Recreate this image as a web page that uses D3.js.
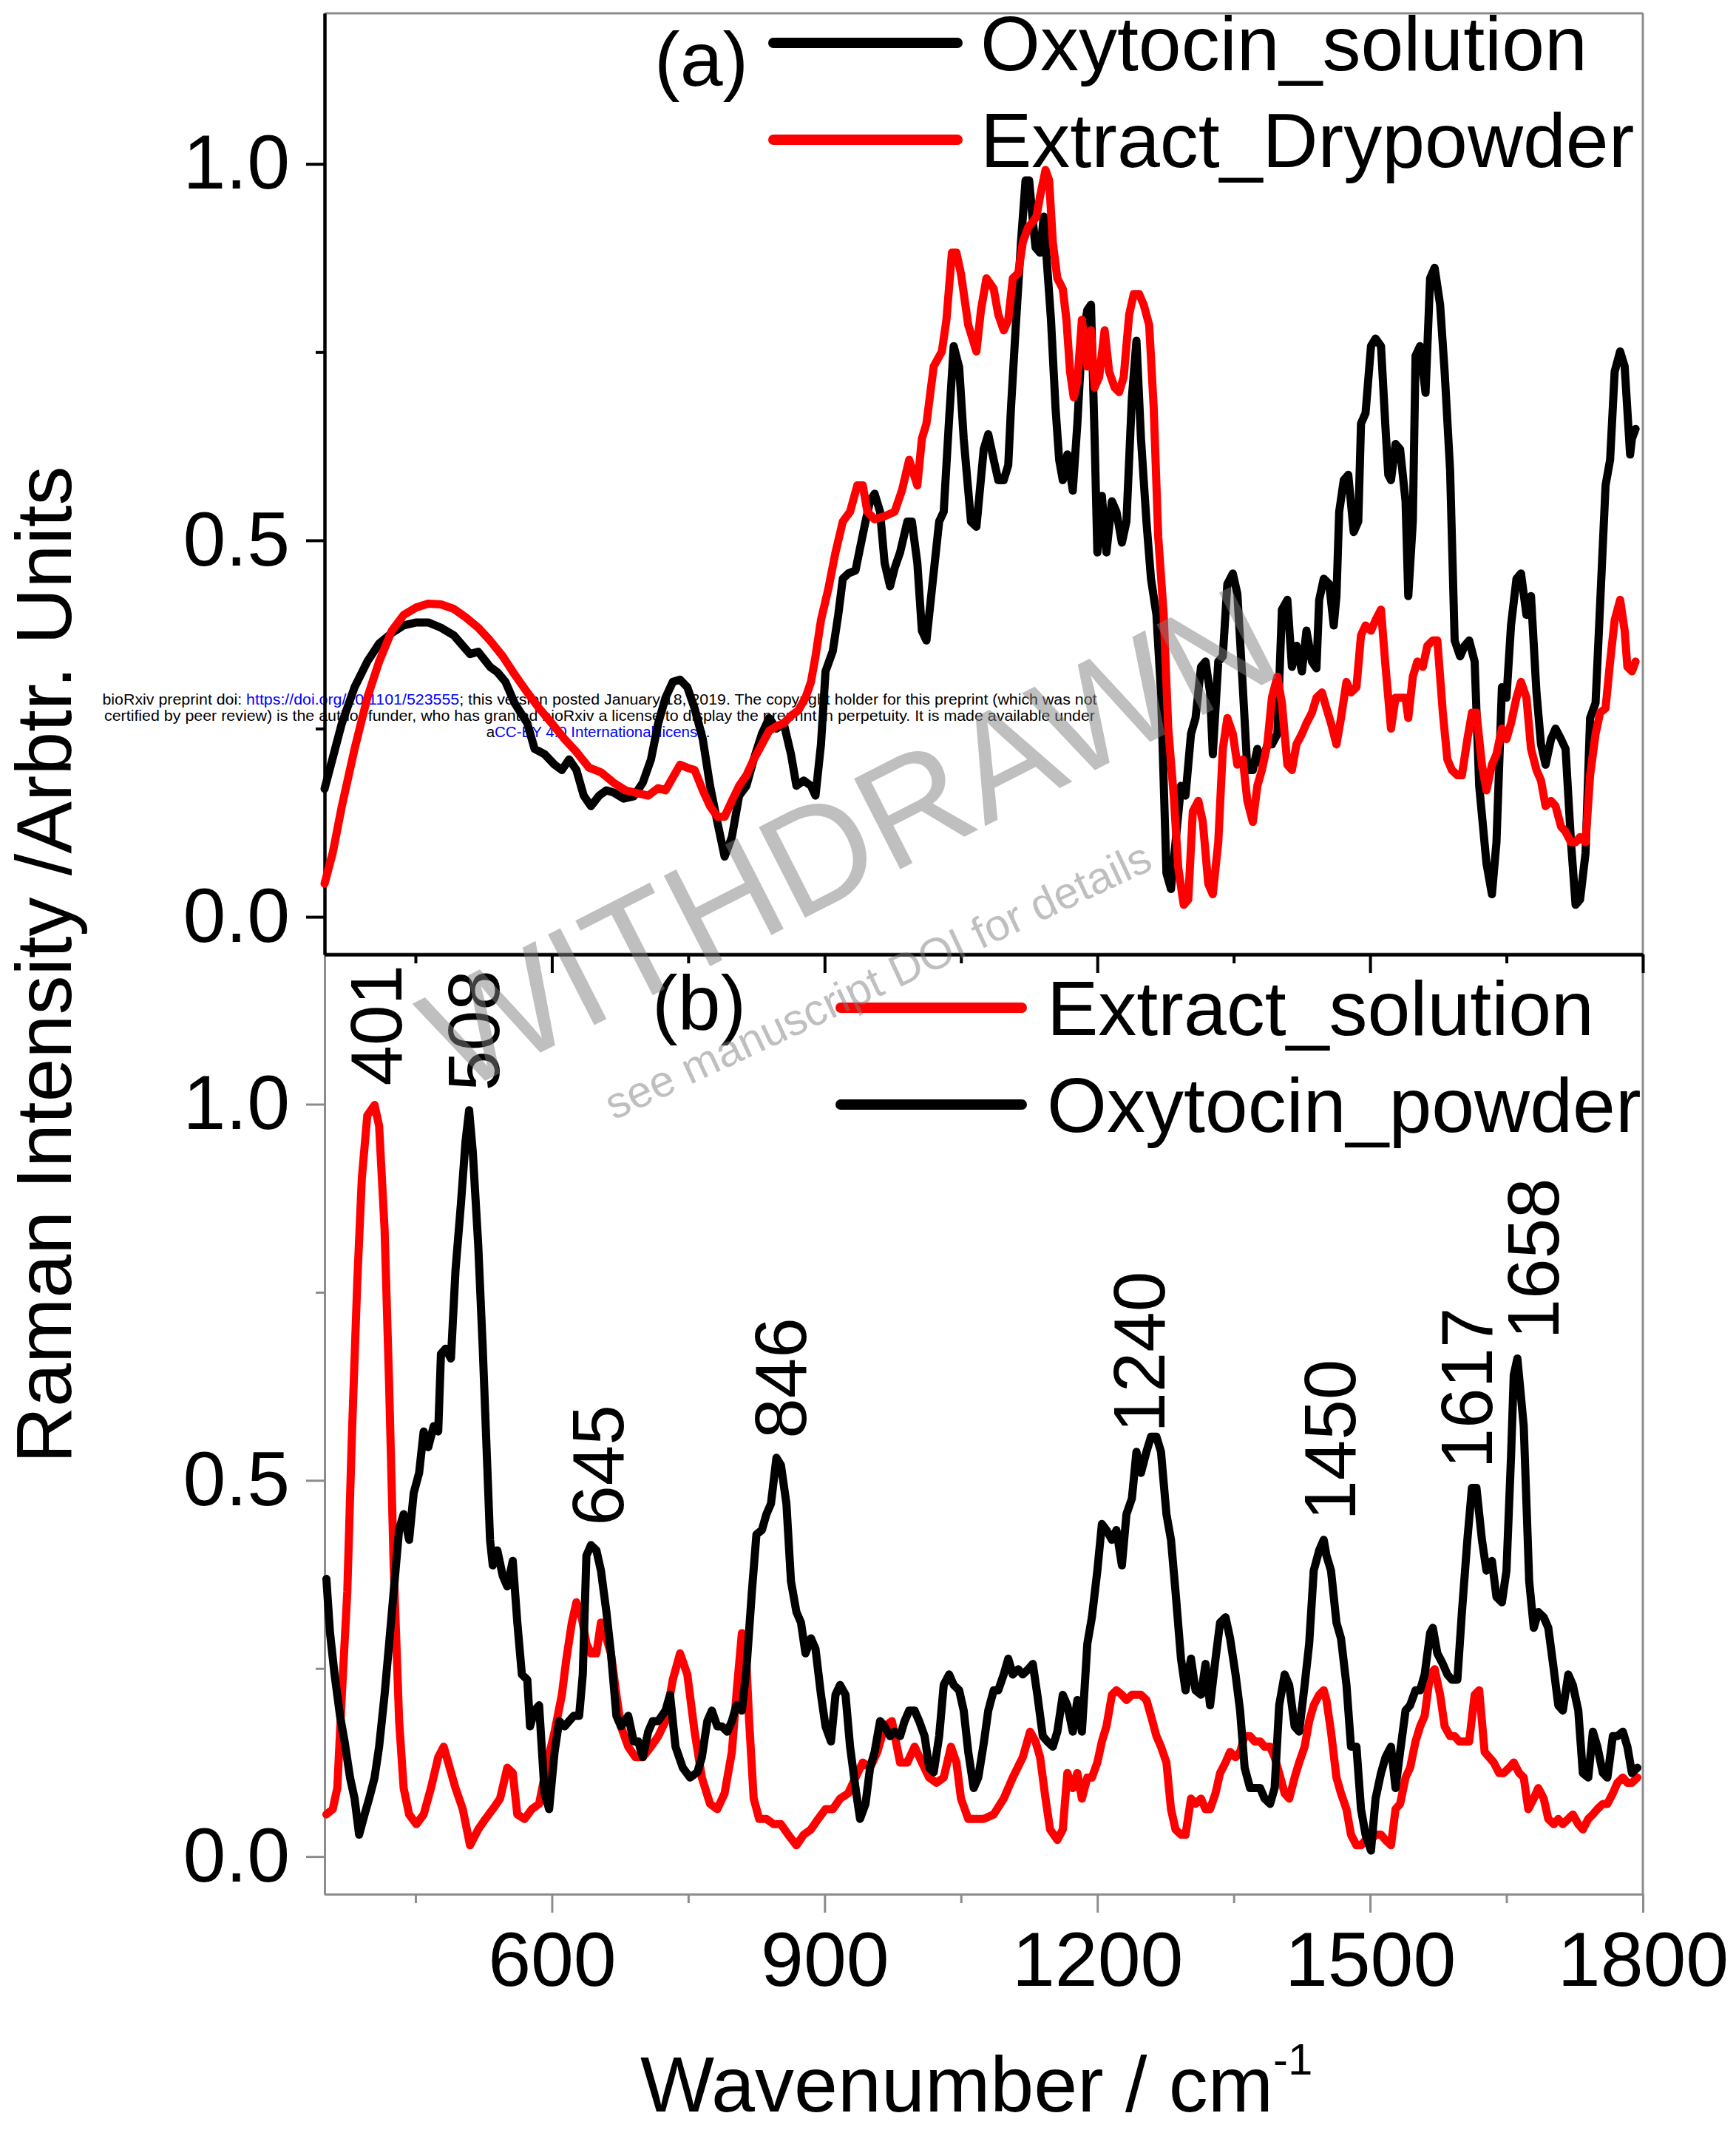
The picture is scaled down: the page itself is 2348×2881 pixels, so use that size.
<!DOCTYPE html>
<html>
<head>
<meta charset="utf-8">
<script src="https://cdn.jsdelivr.net/npm/d3@7"></script>
<style>
  body { margin: 0; background: #fff; }
  text { font-family: "Liberation Sans", Arial, sans-serif; }
</style>
</head>
<body>
<div id="chart"></div>
<script>
// ---- data: [wavenumber, normalised intensity] ----

// panel (a)
const oxytocinSolution = [[350,.17],[369,.257],[383,.305],[397,.339],[410,.363],[424,.377],[437,.387],[451,.391],[464,.391],[478,.384],[492,.374],[505,.356],[510,.349],[519,.352],[532,.332],[540,.325],[549,.312],[559,.284],[573,.257],[581,.223],[592,.216],[603,.202],[611,.195],[619,.209],[627,.195],[635,.161],[643,.147],[652,.161],[660,.168],[668,.165],[679,.157],[690,.16],[700,.178],[709,.209],[717,.257],[725,.291],[733,.312],[741,.315],[749,.305],[757,.277],[766,.236],[774,.174],[782,.126],[790,.08],[798,.106],[806,.161],[814,.174],[822,.209],[831,.243],[839,.264],[847,.25],[855,.257],[863,.216],[869,.174],[877,.181],[885,.174],[890,.161],[896,.229],[901,.326],[909,.353],[915,.401],[920,.449],[926,.456],[934,.46],[939,.49],[945,.525],[950,.552],[955,.562],[961,.538],[966,.47],[972,.439],[977,.463],[983,.484],[991,.525],[996,.525],[1002,.47],[1007,.38],[1012,.367],[1018,.435],[1026,.525],[1031,.538],[1037,.662],[1042,.758],[1048,.73],[1053,.635],[1061,.525],[1067,.518],[1075,.621],[1080,.641],[1086,.607],[1091,.58],[1097,.58],[1102,.6],[1105,.676],[1110,.779],[1116,.896],[1121,.978],[1125,.978],[1128,.937],[1132,.889],[1137,.882],[1141,.93],[1145,.861],[1149,.793],[1154,.676],[1158,.607],[1162,.58],[1167,.614],[1173,.566],[1178,.655],[1183,.765],[1189,.806],[1193,.813],[1197,.635],[1200,.484],[1205,.559],[1210,.484],[1216,.552],[1221,.538],[1227,.497],[1232,.525],[1238,.69],[1243,.765],[1248,.635],[1254,.525],[1259,.449],[1265,.401],[1270,.298],[1276,.058],[1281,.037],[1286,.099],[1292,.174],[1297,.161],[1303,.243],[1308,.264],[1314,.332],[1319,.339],[1324,.298],[1327,.216],[1333,.339],[1338,.346],[1343,.442],[1349,.456],[1354,.429],[1360,.305],[1365,.195],[1371,.195],[1376,.223],[1381,.202],[1387,.229],[1392,.229],[1398,.243],[1403,.408],[1409,.421],[1414,.332],[1419,.36],[1425,.326],[1430,.38],[1436,.339],[1441,.33],[1444,.421],[1449,.449],[1455,.442],[1460,.387],[1463,.426],[1466,.538],[1471,.58],[1476,.587],[1482,.511],[1487,.525],[1490,.655],[1495,.669],[1501,.758],[1506,.768],[1512,.758],[1517,.648],[1520,.587],[1523,.58],[1528,.628],[1533,.621],[1539,.552],[1542,.426],[1547,.525],[1550,.745],[1555,.758],[1561,.696],[1566,.848],[1571,.862],[1577,.813],[1582,.724],[1588,.593],[1593,.367],[1599,.346],[1604,.36],[1609,.367],[1615,.339],[1620,.174],[1628,.071],[1634,.03],[1639,.099],[1645,.305],[1650,.291],[1655,.387],[1661,.449],[1666,.456],[1672,.401],[1677,.426],[1683,.298],[1688,.229],[1693,.202],[1699,.236],[1704,.25],[1710,.236],[1715,.223],[1721,.099],[1726,.016],[1731,.023],[1737,.085],[1742,.264],[1748,.284],[1753,.415],[1759,.573],[1764,.607],[1769,.724],[1775,.751],[1780,.731],[1786,.614],[1788,.635],[1792,.648]];

const extractDrypowder = [[350,.044],[359,.085],[369,.147],[383,.223],[397,.291],[410,.339],[424,.38],[437,.401],[451,.411],[464,.416],[478,.415],[492,.409],[505,.398],[519,.384],[532,.367],[546,.346],[559,.322],[573,.298],[586,.277],[600,.257],[614,.236],[627,.219],[641,.198],[654,.192],[668,.178],[681,.168],[695,.164],[706,.161],[717,.171],[725,.168],[733,.185],[741,.202],[749,.198],[757,.195],[766,.168],[774,.147],[782,.133],[790,.133],[798,.154],[806,.174],[814,.188],[822,.209],[831,.229],[839,.247],[847,.253],[855,.257],[863,.267],[871,.274],[879,.291],[885,.312],[890,.346],[896,.394],[904,.435],[912,.484],[920,.525],[928,.538],[936,.573],[942,.573],[947,.538],[955,.528],[966,.532],[977,.538],[985,.566],[993,.607],[1002,.573],[1007,.635],[1012,.655],[1020,.731],[1029,.751],[1034,.793],[1040,.882],[1045,.882],[1050,.854],[1058,.786],[1067,.751],[1072,.806],[1078,.848],[1086,.834],[1091,.8],[1097,.779],[1102,.793],[1107,.848],[1113,.855],[1118,.896],[1124,.916],[1129,.923],[1133,.93],[1137,.957],[1143,.992],[1147,.978],[1151,.896],[1156,.848],[1162,.834],[1166,.793],[1170,.724],[1174,.69],[1178,.711],[1183,.793],[1189,.731],[1193,.779],[1197,.703],[1202,.717],[1208,.779],[1213,.724],[1219,.703],[1224,.697],[1229,.717],[1235,.8],[1240,.827],[1246,.827],[1251,.813],[1257,.786],[1262,.676],[1267,.504],[1273,.401],[1278,.25],[1284,.161],[1289,.065],[1295,.016],[1300,.023],[1305,.14],[1311,.154],[1316,.126],[1322,.044],[1327,.03],[1333,.099],[1338,.223],[1343,.264],[1349,.243],[1354,.202],[1360,.209],[1365,.154],[1371,.126],[1376,.174],[1381,.195],[1387,.229],[1392,.291],[1398,.319],[1403,.284],[1409,.202],[1414,.195],[1419,.229],[1425,.243],[1430,.257],[1436,.271],[1441,.291],[1447,.298],[1452,.277],[1457,.257],[1463,.229],[1468,.264],[1474,.312],[1479,.298],[1485,.305],[1490,.374],[1495,.387],[1501,.38],[1506,.394],[1512,.408],[1517,.332],[1523,.25],[1528,.291],[1533,.291],[1539,.291],[1542,.264],[1547,.319],[1552,.339],[1558,.332],[1563,.36],[1569,.367],[1574,.367],[1580,.271],[1585,.209],[1590,.195],[1596,.188],[1601,.188],[1607,.236],[1612,.271],[1617,.271],[1623,.202],[1628,.168],[1634,.202],[1639,.216],[1645,.25],[1650,.236],[1655,.257],[1661,.291],[1666,.312],[1672,.291],[1677,.223],[1683,.195],[1688,.181],[1693,.147],[1699,.154],[1704,.147],[1710,.12],[1715,.113],[1721,.099],[1726,.099],[1731,.106],[1737,.099],[1742,.188],[1748,.243],[1753,.271],[1759,.277],[1764,.339],[1769,.394],[1775,.421],[1780,.38],[1783,.332],[1788,.326],[1792,.339]];

// panel (b)
const extractSolution = [[352,.056],[359,.063],[364,.091],[369,.215],[375,.352],[380,.558],[386,.765],[391,.902],[397,.985],[405,.999],[410,.971],[416,.834],[421,.627],[426,.387],[432,.18],[437,.091],[443,.056],[451,.043],[459,.056],[467,.091],[475,.132],[481,.146],[486,.125],[494,.091],[502,.063],[510,.015],[519,.036],[527,.05],[535,.063],[543,.077],[551,.118],[557,.111],[562,.056],[570,.05],[578,.063],[586,.07],[595,.125],[603,.166],[611,.215],[616,.263],[622,.311],[627,.338],[633,.317],[638,.283],[643,.27],[649,.27],[654,.311],[660,.29],[665,.27],[671,.215],[676,.173],[684,.146],[692,.132],[700,.132],[709,.146],[717,.16],[725,.18],[733,.235],[741,.27],[749,.242],[757,.166],[765,.105],[774,.07],[782,.063],[790,.084],[798,.139],[803,.215],[809,.297],[813,.283],[817,.18],[822,.077],[828,.05],[836,.05],[844,.043],[852,.043],[860,.029],[869,.015],[877,.029],[885,.036],[893,.05],[901,.063],[909,.063],[917,.077],[926,.084],[934,.105],[942,.125],[950,.118],[958,.139],[966,.173],[974,.18],[983,.125],[991,.125],[999,.146],[1007,.125],[1015,.105],[1023,.098],[1031,.105],[1039,.146],[1045,.125],[1050,.077],[1058,.05],[1067,.05],[1075,.05],[1086,.056],[1097,.077],[1107,.105],[1118,.132],[1126,.166],[1132,.153],[1137,.132],[1143,.077],[1148,.036],[1156,.022],[1162,.036],[1167,.111],[1173,.091],[1178,.111],[1183,.077],[1189,.105],[1194,.105],[1200,.125],[1205,.153],[1210,.173],[1216,.215],[1221,.221],[1227,.215],[1232,.208],[1238,.215],[1243,.215],[1248,.215],[1254,.208],[1259,.187],[1265,.16],[1270,.146],[1276,.125],[1281,.063],[1286,.036],[1292,.029],[1297,.029],[1303,.077],[1308,.07],[1314,.077],[1319,.063],[1324,.063],[1330,.084],[1335,.111],[1341,.125],[1346,.139],[1352,.132],[1357,.139],[1362,.16],[1368,.16],[1373,.153],[1379,.153],[1384,.146],[1390,.146],[1395,.132],[1400,.111],[1406,.084],[1411,.077],[1417,.105],[1422,.125],[1428,.146],[1433,.18],[1438,.201],[1444,.215],[1449,.221],[1452,.208],[1457,.166],[1463,.105],[1468,.084],[1474,.063],[1479,.029],[1485,.015],[1490,.015],[1495,.022],[1501,.022],[1506,.029],[1512,.029],[1517,.022],[1523,.015],[1528,.063],[1533,.07],[1539,.105],[1544,.118],[1550,.153],[1555,.173],[1560,.187],[1566,.242],[1571,.249],[1577,.215],[1582,.173],[1588,.16],[1593,.16],[1598,.153],[1604,.153],[1609,.153],[1615,.215],[1620,.221],[1626,.139],[1631,.132],[1636,.125],[1642,.111],[1647,.111],[1653,.118],[1658,.125],[1664,.111],[1669,.105],[1674,.063],[1680,.077],[1685,.091],[1691,.077],[1696,.05],[1702,.043],[1707,.05],[1712,.043],[1718,.05],[1723,.056],[1729,.043],[1734,.036],[1740,.05],[1745,.056],[1750,.063],[1756,.07],[1761,.07],[1767,.084],[1772,.098],[1778,.105],[1783,.098],[1788,.098],[1794,.105]];

const oxytocinPowder = [[352,.369],[356,.297],[361,.242],[367,.187],[372,.153],[378,.105],[383,.077],[388,.029],[394,.056],[399,.077],[405,.105],[410,.146],[416,.215],[421,.283],[426,.352],[432,.435],[437,.455],[443,.421],[448,.483],[454,.51],[459,.565],[464,.544],[470,.572],[475,.565],[478,.668],[483,.675],[489,.662],[494,.779],[500,.868],[505,.95],[509,.992],[513,.937],[519,.813],[524,.675],[529,.517],[532,.421],[535,.387],[540,.407],[546,.373],[551,.359],[557,.393],[562,.311],[567,.242],[573,.235],[576,.173],[581,.194],[586,.201],[592,.084],[597,.063],[603,.139],[608,.18],[614,.173],[619,.18],[624,.187],[630,.187],[634,.242],[638,.4],[643,.414],[649,.407],[654,.38],[660,.325],[665,.27],[671,.187],[676,.173],[684,.187],[690,.153],[695,.153],[700,.132],[706,.166],[711,.18],[717,.18],[725,.194],[730,.215],[736,.146],[744,.118],[752,.105],[760,.112],[765,.132],[771,.18],[776,.194],[782,.173],[787,.173],[793,.166],[798,.18],[803,.201],[809,.194],[814,.249],[820,.352],[825,.428],[831,.434],[836,.455],[841,.469],[847,.53],[852,.52],[858,.469],[863,.366],[869,.325],[874,.311],[879,.27],[885,.29],[890,.276],[896,.215],[901,.173],[907,.153],[912,.215],[917,.228],[923,.215],[928,.146],[934,.091],[939,.05],[945,.07],[950,.118],[955,.139],[961,.18],[966,.173],[972,.16],[977,.166],[983,.16],[988,.18],[993,.194],[999,.194],[1004,.18],[1010,.16],[1015,.118],[1020,.112],[1026,.16],[1031,.228],[1037,.242],[1042,.228],[1048,.221],[1053,.194],[1058,.139],[1064,.091],[1069,.105],[1075,.15],[1080,.194],[1086,.221],[1091,.221],[1097,.242],[1102,.263],[1107,.242],[1113,.249],[1118,.242],[1124,.249],[1129,.256],[1134,.215],[1140,.16],[1145,.153],[1151,.146],[1156,.166],[1162,.215],[1167,.201],[1173,.166],[1178,.208],[1183,.166],[1189,.283],[1194,.318],[1200,.38],[1205,.442],[1210,.434],[1216,.421],[1221,.434],[1227,.387],[1232,.455],[1238,.476],[1243,.538],[1248,.51],[1254,.538],[1259,.558],[1265,.558],[1270,.538],[1276,.455],[1281,.421],[1286,.352],[1292,.263],[1297,.221],[1303,.263],[1308,.221],[1314,.215],[1319,.256],[1324,.201],[1330,.263],[1335,.311],[1341,.318],[1346,.29],[1352,.242],[1357,.194],[1362,.118],[1368,.091],[1373,.091],[1379,.091],[1384,.077],[1390,.07],[1395,.091],[1400,.201],[1406,.242],[1411,.228],[1417,.173],[1422,.166],[1428,.228],[1433,.283],[1438,.38],[1444,.407],[1449,.421],[1452,.4],[1457,.38],[1463,.311],[1468,.29],[1474,.228],[1479,.146],[1485,.146],[1490,.063],[1495,.029],[1501,.008],[1506,.077],[1512,.111],[1517,.132],[1523,.146],[1528,.091],[1533,.139],[1539,.194],[1544,.201],[1550,.221],[1555,.221],[1560,.242],[1566,.297],[1569,.304],[1574,.27],[1580,.256],[1585,.242],[1590,.235],[1596,.235],[1601,.325],[1607,.421],[1612,.49],[1617,.49],[1623,.421],[1628,.38],[1634,.393],[1639,.345],[1645,.338],[1650,.38],[1655,.531],[1658,.64],[1662,.662],[1669,.572],[1675,.366],[1680,.304],[1685,.325],[1691,.318],[1696,.304],[1702,.249],[1707,.201],[1712,.194],[1718,.242],[1723,.228],[1729,.194],[1734,.111],[1740,.105],[1745,.166],[1750,.146],[1756,.111],[1761,.105],[1767,.16],[1772,.16],[1778,.166],[1783,.146],[1788,.111],[1794,.118]];

const peakLabels = [401, 508, 645, 846, 1240, 1450, 1617, 1658];

const xMajorTicks = [600, 900, 1200, 1500, 1800];
const xMinorTicks = [450, 750, 1050, 1350, 1650];
const yMajorTicks = [0, 0.5, 1.0];
const yMinorTicks = [0.25, 0.75];

const legendA = ["Oxytocin_solution", "Extract_Drypowder"];
const legendB = ["Extract_solution", "Oxytocin_powder"];

// ---- setup ----
const width = 2348, height = 2881;
const grey = "#8c8c8c";

const svg = d3.select("#chart")
  .append("svg")
  .attr("width", width)
  .attr("height", height);

svg.append("rect").attr("width", width).attr("height", height).attr("fill", "#fff");

const left = 439, right = 2222;
const x = d3.scaleLinear().domain([350, 1800]).range([left, right]);
const yA = d3.scaleLinear().domain([-0.05, 1.2]).range([1291, 18]);
const yB = d3.scaleLinear().domain([-0.05, 1.2]).range([2562, 1290]);

// bioRxiv header sits underneath the curves
const header = svg.append("g").attr("font-size", 20.5).attr("text-anchor", "middle");
const h1 = header.append("text").attr("x", 811).attr("y", 953)
  .attr("textLength", 1345).attr("lengthAdjust", "spacingAndGlyphs");
h1.append("tspan").text("bioRxiv preprint doi: ");
h1.append("tspan").attr("fill", "#0000ff").text("https://doi.org/10.1101/523555");
h1.append("tspan").text("; this version posted January 18, 2019. The copyright holder for this preprint (which was not");
header.append("text").attr("x", 811).attr("y", 975)
  .attr("textLength", 1340).attr("lengthAdjust", "spacingAndGlyphs")
  .text("certified by peer review) is the author/funder, who has granted bioRxiv a license to display the preprint in perpetuity. It is made available under");
const h3 = header.append("text").attr("x", 809).attr("y", 997);
h3.append("tspan").text("a");
h3.append("tspan").attr("fill", "#0000ff").text("CC-BY 4.0 International license");
h3.append("tspan").text(".");

function styleAxis(g, color, w) {
  g.select(".domain").attr("stroke", color).attr("stroke-width", w);
  g.selectAll(".tick line").attr("stroke", color).attr("stroke-width", w);
  g.selectAll(".tick text")
    .attr("fill", "#000")
    .attr("font-size", 104)
    .attr("font-family", "'Liberation Sans', Arial, sans-serif");
}

function drawPanel(y, opts) {
  const top = y.range()[1], bottom = y.range()[0];

  // frame top/right in grey
  svg.append("line").attr("x1", left).attr("x2", right).attr("y1", top).attr("y2", top)
    .attr("stroke", grey).attr("stroke-width", 3);
  svg.append("line").attr("x1", right).attr("x2", right).attr("y1", top).attr("y2", bottom)
    .attr("stroke", grey).attr("stroke-width", 3);

  // minor ticks first
  const xMin = svg.append("g").attr("transform", `translate(0,${bottom})`)
    .call(d3.axisBottom(x).tickValues(xMinorTicks).tickSize(12).tickSizeOuter(0).tickFormat(""));
  styleAxis(xMin, opts.axisColor, opts.axisWidth);
  const xMaj = svg.append("g").attr("transform", `translate(0,${bottom})`)
    .call(d3.axisBottom(x).tickValues(xMajorTicks).tickSize(25).tickSizeOuter(0).tickPadding(25)
      .tickFormat(opts.xLabels ? d3.format("d") : ""));
  styleAxis(xMaj, opts.axisColor, opts.axisWidth);

  const yMin = svg.append("g").attr("transform", `translate(${left},0)`)
    .call(d3.axisLeft(y).tickValues(yMinorTicks).tickSize(12).tickSizeOuter(0).tickFormat(""));
  styleAxis(yMin, opts.axisColor, opts.axisWidth);
  const yMaj = svg.append("g").attr("transform", `translate(${left},0)`)
    .call(d3.axisLeft(y).tickValues(yMajorTicks).tickSize(25).tickSizeOuter(0).tickPadding(22)
      .tickFormat(d3.format(".1f")));
  styleAxis(yMaj, opts.axisColor, opts.axisWidth);
}

drawPanel(yB, { axisColor: grey, axisWidth: 3, xLabels: true });
drawPanel(yA, { axisColor: "#000", axisWidth: 4, xLabels: false });

function curve(data, y, color) {
  const line = d3.line().x(d => x(d[0])).y(d => y(d[1]));
  svg.append("path")
    .datum(data)
    .attr("fill", "none")
    .attr("stroke", color)
    .attr("stroke-width", 11)
    .attr("stroke-linejoin", "round")
    .attr("stroke-linecap", "round")
    .attr("d", line);
}

// panel (a): red drawn last, panel (b): black drawn last
curve(oxytocinSolution, yA, "#000");
curve(extractDrypowder, yA, "#ff0000");
curve(extractSolution, yB, "#ff0000");
curve(oxytocinPowder, yB, "#000");

// legends
function legend(items, colors, lineX, textX, rows) {
  items.forEach((name, i) => {
    svg.append("line")
      .attr("x1", lineX[0]).attr("x2", lineX[1])
      .attr("y1", rows[i]).attr("y2", rows[i])
      .attr("stroke", colors[i]).attr("stroke-width", 14).attr("stroke-linecap", "round");
    svg.append("text")
      .attr("x", textX).attr("y", rows[i] + 37)
      .attr("font-size", 104)
      .text(name);
  });
}
legend(legendA, ["#000", "#ff0000"], [1046, 1295], 1326, [58, 189]);
legend(legendB, ["#ff0000", "#000"], [1137, 1382], 1416, [1363, 1494]);

svg.append("text").attr("x", 885).attr("y", 116).attr("font-size", 104).text("(a)");
svg.append("text").attr("x", 882).attr("y", 1392).attr("font-size", 104).text("(b)");

// peak labels in panel (b), rotated, sitting above the peak maximum
const both = extractSolution.concat(oxytocinPowder);
const labelPos = peakLabels.map(w => {
  const top = d3.max(both.filter(d => Math.abs(d[0] - w) <= 15), d => d[1]);
  return { w, xc: x(w) + 6, yb: yB(top) - 26 };
});
for (let i = 1; i < labelPos.length; i++) {
  const gap = labelPos[i].xc - labelPos[i - 1].xc;
  if (gap < 90) {
    const s = (90 - gap) / 2;
    labelPos[i - 1].xc -= s;
    labelPos[i].xc += s;
  }
}
svg.selectAll(".peak")
  .data(labelPos)
  .enter()
  .append("text")
  .attr("class", "peak")
  .attr("transform", d => `translate(${d.xc},${d.yb}) rotate(-90)`)
  .attr("dy", "0.36em")
  .attr("font-size", 98)
  .text(d => d.w);

// axis titles
svg.append("text")
  .attr("transform", "translate(96,1305) rotate(-90)")
  .attr("text-anchor", "middle")
  .attr("font-size", 106)
  .text("Raman Intensity /Arbtr. Units");

const xt = svg.append("text").attr("x", 866).attr("y", 2856).attr("font-size", 106);
xt.append("tspan").text("Wavenumber / cm");
xt.append("tspan").attr("font-size", 60).attr("dy", -50).text("-1");

// withdrawn watermark on top
const wm = svg.append("g").attr("fill", "#7f7f7f").attr("fill-opacity", 0.5).attr("text-anchor", "middle");
wm.append("text")
  .attr("transform", "translate(1180,1195) rotate(-27)")
  .attr("font-size", 200)
  .text("WITHDRAWN");
wm.append("text")
  .attr("transform", "translate(1196,1345) rotate(-25)")
  .attr("font-size", 60)
  .text("see manuscript DOI for details");
</script>
</body>
</html>
